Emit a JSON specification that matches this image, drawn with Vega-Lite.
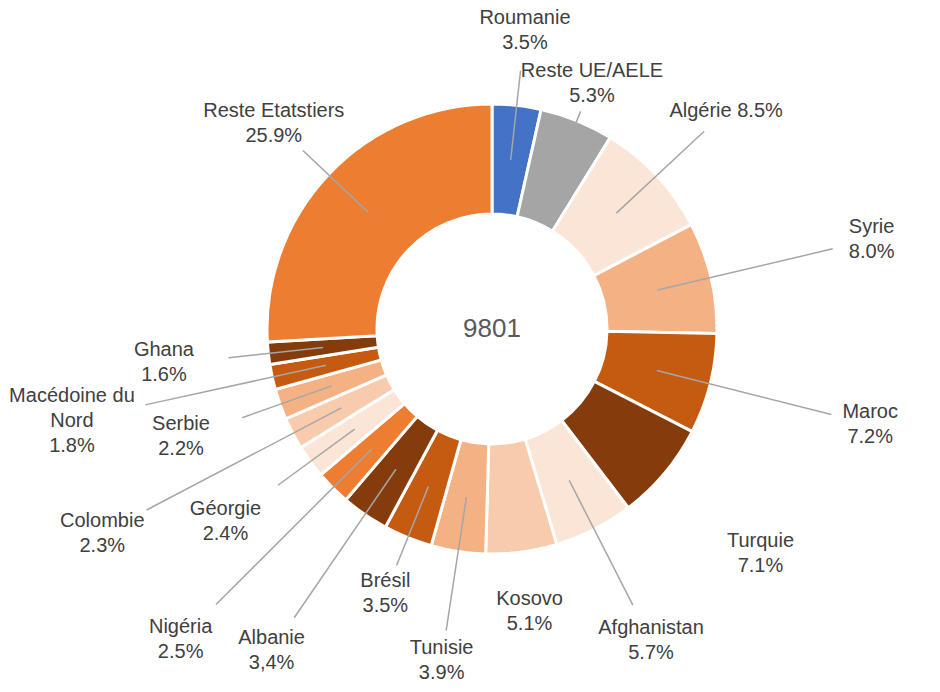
{
  "$schema": "https://vega.github.io/schema/vega-lite/v6.json",
  "autosize": {"type": "none"},
  "width": 896,
  "height": 658,
  "padding": {"left": 44, "top": 0, "right": 0, "bottom": 34},
  "background": "white",
  "config": {"view": {"stroke": null}},
  "layer": [
    {
      "data": {
        "values": [
          {"ordre": 1, "pays": "Roumanie", "part": 3.5, "etiquette": "Roumanie\n3.5%"},
          {"ordre": 2, "pays": "Reste UE/AELE", "part": 5.3, "etiquette": "Reste UE/AELE\n5.3%"},
          {"ordre": 3, "pays": "Algérie", "part": 8.5, "etiquette": "Algérie 8.5%"},
          {"ordre": 4, "pays": "Syrie", "part": 8.0, "etiquette": "Syrie\n8.0%"},
          {"ordre": 5, "pays": "Maroc", "part": 7.2, "etiquette": "Maroc\n7.2%"},
          {"ordre": 6, "pays": "Turquie", "part": 7.1, "etiquette": "Turquie\n7.1%"},
          {"ordre": 7, "pays": "Afghanistan", "part": 5.7, "etiquette": "Afghanistan\n5.7%"},
          {"ordre": 8, "pays": "Kosovo", "part": 5.1, "etiquette": "Kosovo\n5.1%"},
          {"ordre": 9, "pays": "Tunisie", "part": 3.9, "etiquette": "Tunisie\n3.9%"},
          {"ordre": 10, "pays": "Brésil", "part": 3.5, "etiquette": "Brésil\n3.5%"},
          {"ordre": 11, "pays": "Albanie", "part": 3.4, "etiquette": "Albanie\n3,4%"},
          {"ordre": 12, "pays": "Nigéria", "part": 2.5, "etiquette": "Nigéria\n2.5%"},
          {"ordre": 13, "pays": "Géorgie", "part": 2.4, "etiquette": "Géorgie\n2.4%"},
          {"ordre": 14, "pays": "Colombie", "part": 2.3, "etiquette": "Colombie\n2.3%"},
          {"ordre": 15, "pays": "Serbie", "part": 2.2, "etiquette": "Serbie\n2.2%"},
          {"ordre": 16, "pays": "Macédoine du Nord", "part": 1.8, "etiquette": "Macédoine du\nNord\n1.8%"},
          {"ordre": 17, "pays": "Ghana", "part": 1.6, "etiquette": "Ghana\n1.6%"},
          {"ordre": 18, "pays": "Reste Etatstiers", "part": 25.9, "etiquette": "Reste Etatstiers\n25.9%"}
        ]
      },
      "encoding": {
        "theta": {"field": "part", "type": "quantitative", "stack": true, "scale": {"nice": false, "zero": true}},
        "order": {"field": "ordre", "type": "quantitative"},
        "detail": {"field": "pays", "type": "nominal"}
      },
      "layer": [
        {
          "mark": {"type": "arc", "innerRadius": 115, "outerRadius": 225, "stroke": "white", "strokeWidth": 3},
          "encoding": {
            "color": {
              "field": "pays",
              "type": "nominal",
              "legend": null,
              "scale": {
                "domain": ["Roumanie", "Reste UE/AELE", "Algérie", "Syrie", "Maroc", "Turquie", "Afghanistan", "Kosovo", "Tunisie", "Brésil", "Albanie", "Nigéria", "Géorgie", "Colombie", "Serbie", "Macédoine du Nord", "Ghana", "Reste Etatstiers"],
                "range": ["#4472C4", "#A5A5A5", "#FBE5D6", "#F4B183", "#C55A11", "#843C0C", "#FBE5D6", "#F8CBAD", "#F4B183", "#C55A11", "#843C0C", "#ED7D31", "#FBE5D6", "#F8CBAD", "#F4B183", "#C55A11", "#843C0C", "#ED7D31"]
              }
            }
          }
        },
        {
          "mark": {"type": "arc", "innerRadius": 170, "outerRadius": 235, "padAngle": 3.14, "filled": false, "stroke": "#A6A6A6", "strokeWidth": 1.5},
          "encoding": {"strokeOpacity": {"condition": {"test": "indexof(['Reste UE/AELE'], datum.pays) >= 0", "value": 1}, "value": 0}}
        },
        {
          "mark": {"type": "arc", "innerRadius": 170, "outerRadius": 255, "padAngle": 3.14, "filled": false, "stroke": "#A6A6A6", "strokeWidth": 1.5},
          "encoding": {"strokeOpacity": {"condition": {"test": "indexof(['Brésil'], datum.pays) >= 0", "value": 1}, "value": 0}}
        },
        {
          "mark": {"type": "arc", "innerRadius": 170, "outerRadius": 260, "padAngle": 3.14, "filled": false, "stroke": "#A6A6A6", "strokeWidth": 1.5},
          "encoding": {"strokeOpacity": {"condition": {"test": "indexof(['Roumanie', 'Reste Etatstiers'], datum.pays) >= 0", "value": 1}, "value": 0}}
        },
        {
          "mark": {"type": "arc", "innerRadius": 170, "outerRadius": 265, "padAngle": 3.14, "filled": false, "stroke": "#A6A6A6", "strokeWidth": 1.5},
          "encoding": {"strokeOpacity": {"condition": {"test": "indexof(['Ghana', 'Serbie', 'Géorgie'], datum.pays) >= 0", "value": 1}, "value": 0}}
        },
        {
          "mark": {"type": "arc", "innerRadius": 170, "outerRadius": 290, "padAngle": 3.14, "filled": false, "stroke": "#A6A6A6", "strokeWidth": 1.5},
          "encoding": {"strokeOpacity": {"condition": {"test": "indexof(['Algérie'], datum.pays) >= 0", "value": 1}, "value": 0}}
        },
        {
          "mark": {"type": "arc", "innerRadius": 170, "outerRadius": 305, "padAngle": 3.14, "filled": false, "stroke": "#A6A6A6", "strokeWidth": 1.5},
          "encoding": {"strokeOpacity": {"condition": {"test": "indexof(['Tunisie'], datum.pays) >= 0", "value": 1}, "value": 0}}
        },
        {
          "mark": {"type": "arc", "innerRadius": 170, "outerRadius": 310, "padAngle": 3.14, "filled": false, "stroke": "#A6A6A6", "strokeWidth": 1.5},
          "encoding": {"strokeOpacity": {"condition": {"test": "indexof(['Afghanistan'], datum.pays) >= 0", "value": 1}, "value": 0}}
        },
        {
          "mark": {"type": "arc", "innerRadius": 170, "outerRadius": 350, "padAngle": 3.14, "filled": false, "stroke": "#A6A6A6", "strokeWidth": 1.5},
          "encoding": {"strokeOpacity": {"condition": {"test": "indexof(['Albanie', 'Syrie', 'Maroc'], datum.pays) >= 0", "value": 1}, "value": 0}}
        },
        {
          "mark": {"type": "arc", "innerRadius": 170, "outerRadius": 355, "padAngle": 3.14, "filled": false, "stroke": "#A6A6A6", "strokeWidth": 1.5},
          "encoding": {"strokeOpacity": {"condition": {"test": "indexof(['Macédoine du Nord'], datum.pays) >= 0", "value": 1}, "value": 0}}
        },
        {
          "mark": {"type": "arc", "innerRadius": 170, "outerRadius": 390, "padAngle": 3.14, "filled": false, "stroke": "#A6A6A6", "strokeWidth": 1.5},
          "encoding": {"strokeOpacity": {"condition": {"test": "indexof(['Colombie', 'Nigéria'], datum.pays) >= 0", "value": 1}, "value": 0}}
        },
        {
          "mark": {"type": "text", "radius": 265, "dy": -12.5, "font": "Liberation Sans", "fontSize": 20, "lineHeight": 25, "lineBreak": "\n", "color": "#404040"},
          "encoding": {"text": {"condition": {"test": "indexof(['Reste UE/AELE'], datum.pays) >= 0", "field": "etiquette", "type": "nominal"}, "value": ""}}
        },
        {
          "mark": {"type": "text", "radius": 285, "dy": -12.5, "font": "Liberation Sans", "fontSize": 20, "lineHeight": 25, "lineBreak": "\n", "color": "#404040"},
          "encoding": {"text": {"condition": {"test": "indexof(['Kosovo', 'Brésil'], datum.pays) >= 0", "field": "etiquette", "type": "nominal"}, "value": ""}}
        },
        {
          "mark": {"type": "text", "radius": 300, "dy": -12.5, "font": "Liberation Sans", "fontSize": 20, "lineHeight": 25, "lineBreak": "\n", "color": "#404040"},
          "encoding": {"text": {"condition": {"test": "indexof(['Roumanie', 'Reste Etatstiers'], datum.pays) >= 0", "field": "etiquette", "type": "nominal"}, "value": ""}}
        },
        {
          "mark": {"type": "text", "radius": 320, "font": "Liberation Sans", "fontSize": 20, "lineHeight": 25, "lineBreak": "\n", "color": "#404040"},
          "encoding": {"text": {"condition": {"test": "indexof(['Algérie'], datum.pays) >= 0", "field": "etiquette", "type": "nominal"}, "value": ""}}
        },
        {
          "mark": {"type": "text", "radius": 330, "dy": -15, "font": "Liberation Sans", "fontSize": 20, "lineHeight": 25, "lineBreak": "\n", "color": "#404040"},
          "encoding": {"text": {"condition": {"test": "indexof(['Ghana', 'Serbie', 'Géorgie'], datum.pays) >= 0", "field": "etiquette", "type": "nominal"}, "value": ""}}
        },
        {
          "mark": {"type": "text", "radius": 335, "dy": -12.5, "font": "Liberation Sans", "fontSize": 20, "lineHeight": 25, "lineBreak": "\n", "color": "#404040"},
          "encoding": {"text": {"condition": {"test": "indexof(['Tunisie'], datum.pays) >= 0", "field": "etiquette", "type": "nominal"}, "value": ""}}
        },
        {
          "mark": {"type": "text", "radius": 350, "dy": -12.5, "font": "Liberation Sans", "fontSize": 20, "lineHeight": 25, "lineBreak": "\n", "color": "#404040"},
          "encoding": {"text": {"condition": {"test": "indexof(['Turquie', 'Afghanistan'], datum.pays) >= 0", "field": "etiquette", "type": "nominal"}, "value": ""}}
        },
        {
          "mark": {"type": "text", "radius": 390, "dy": -12.5, "font": "Liberation Sans", "fontSize": 20, "lineHeight": 25, "lineBreak": "\n", "color": "#404040"},
          "encoding": {"text": {"condition": {"test": "indexof(['Albanie', 'Syrie', 'Maroc'], datum.pays) >= 0", "field": "etiquette", "type": "nominal"}, "value": ""}}
        },
        {
          "mark": {"type": "text", "radius": 430, "dy": -25, "font": "Liberation Sans", "fontSize": 20, "lineHeight": 25, "lineBreak": "\n", "color": "#404040"},
          "encoding": {"text": {"condition": {"test": "indexof(['Macédoine du Nord'], datum.pays) >= 0", "field": "etiquette", "type": "nominal"}, "value": ""}}
        },
        {
          "mark": {"type": "text", "radius": 440, "dy": -12.5, "font": "Liberation Sans", "fontSize": 20, "lineHeight": 25, "lineBreak": "\n", "color": "#404040"},
          "encoding": {"text": {"condition": {"test": "indexof(['Colombie', 'Nigéria'], datum.pays) >= 0", "field": "etiquette", "type": "nominal"}, "value": ""}}
        }
      ]
    },
    {
      "data": {"values": [{"total": "9801"}]},
      "mark": {"type": "text", "font": "Liberation Sans", "fontSize": 26, "color": "#595959"},
      "encoding": {"text": {"field": "total", "type": "nominal"}}
    }
  ]
}
